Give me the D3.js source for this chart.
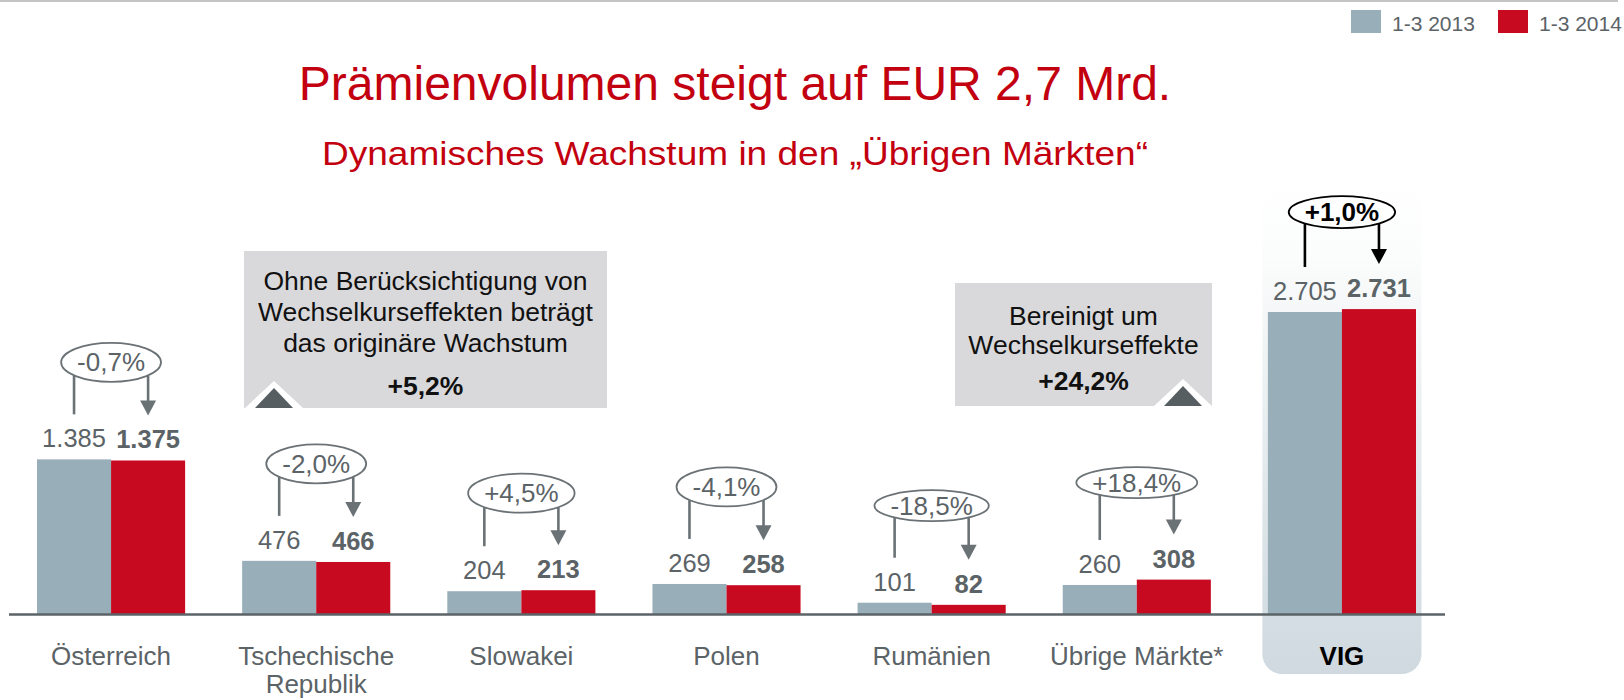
<!DOCTYPE html>
<html lang="de">
<head>
<meta charset="UTF-8">
<title>Prämienvolumen</title>
<script src="https://cdn.jsdelivr.net/npm/d3@7"></script>
<style>
    body { margin: 0; background: #fff; }
    svg { display: block; font-family: "Liberation Sans", Arial, sans-serif; }
</style>
</head>
<body>
<svg></svg>
<script>
    var categories = ["Österreich", "Tschechische\nRepublik", "Slowakei", "Polen", "Rumänien", "Übrige Märkte*", "VIG"];
    var series = ["1-3 2013", "1-3 2014"];
    var values2013 = [1385, 476, 204, 269, 101, 260, 2705];
    var values2014 = [1375, 466, 213, 258, 82, 308, 2731];
    var changes = ["-0,7%", "-2,0%", "+4,5%", "-4,1%", "-18,5%", "+18,4%", "+1,0%"];
    var noteLeft = ["Ohne Berücksichtigung von", "Wechselkurseffekten beträgt", "das originäre Wachstum", "+5,2%"];
    var noteRight = ["Bereinigt um", "Wechselkurseffekte", "+24,2%"];

    var width = 1624;
    var height = 700;
    var textGray = "#5b6367";
    var svg = d3.select("svg")
                .attr("width", width)
                .attr("height", height);

    // deutsches Zahlenformat 1.385
    var fmt = d3.formatLocale({decimal: ",", thousands: ".", grouping: [3], currency: ["", " €"]}).format(",d");

    var x = d3.scaleBand()
            .domain(categories)
            .range([8.5, 1444.5])
            .paddingInner(0.278)
            .paddingOuter(0.139);
    var xs = d3.scaleBand().domain(series).range([0, x.bandwidth()]);
    var y = d3.scaleLinear().domain([0, 2705]).range([614, 312]);
    var color = d3.scaleOrdinal().domain(series).range(["#98aeb8", "#c70a1f"]);

    var data = categories.map(function(c, i) {
        return {cat: c, vals: [values2013[i], values2014[i]], change: changes[i], total: c === "VIG"};
    });

    // Linie oben
    svg.append("line")
        .attr("x1", 0).attr("x2", 1618)
        .attr("y1", 1).attr("y2", 1)
        .attr("stroke", "#c4c4c4").attr("stroke-width", 2);

    // Legende
    var legend = svg.selectAll("g.legend")
            .data(series)
            .enter()
            .append("g")
            .attr("class", "legend")
            .attr("transform", function(d, i) { return "translate(" + (1351 + i * 147) + ",10)"; });
    legend.append("rect")
        .attr("width", 30).attr("height", 23)
        .attr("fill", function(d) { return color(d); });
    legend.append("text")
        .attr("x", 41).attr("y", 21)
        .attr("font-size", 21)
        .attr("fill", textGray)
        .text(function(d) { return d; });

    // Titel
    svg.append("text")
        .attr("x", 735).attr("y", 100)
        .attr("text-anchor", "middle")
        .attr("font-size", 48)
        .attr("fill", "#c3000f")
        .text("Prämienvolumen steigt auf EUR 2,7 Mrd.");
    svg.append("text")
        .attr("x", 735).attr("y", 165)
        .attr("text-anchor", "middle")
        .attr("font-size", 33)
        .attr("textLength", 826)
        .attr("lengthAdjust", "spacingAndGlyphs")
        .attr("fill", "#c3000f")
        .text("Dynamisches Wachstum in den „Übrigen Märkten“");

    // Hintergrund VIG
    var grad = svg.append("defs").append("linearGradient")
            .attr("id", "vigBg")
            .attr("x1", 0).attr("y1", 0).attr("x2", 0).attr("y2", 1);
    grad.append("stop").attr("offset", "0%").attr("stop-color", "#ffffff");
    grad.append("stop").attr("offset", "15%").attr("stop-color", "#fbfcfc");
    grad.append("stop").attr("offset", "75%").attr("stop-color", "#d9e2e6");
    grad.append("stop").attr("offset", "100%").attr("stop-color", "#cfd9df");
    svg.append("rect")
        .attr("x", x("VIG") - 5.5)
        .attr("y", 185)
        .attr("width", x.bandwidth() + 11)
        .attr("height", 674 - 185)
        .attr("rx", 20)
        .attr("fill", "url(#vigBg)");

    // Hinweisboxen
    function noteBox(lines, bx, by, bw, bh, baselines, triX) {
        var g = svg.append("g");
        g.append("rect")
            .attr("x", bx).attr("y", by)
            .attr("width", bw).attr("height", bh)
            .attr("fill", "#d9d9dc");
        g.selectAll("text")
            .data(lines)
            .enter()
            .append("text")
            .attr("x", bx + bw / 2)
            .attr("y", function(d, i) { return baselines[i]; })
            .attr("text-anchor", "middle")
            .attr("font-size", 26.5)
            .attr("font-weight", function(d, i) { return i === lines.length - 1 ? "bold" : null; })
            .attr("fill", "#111")
            .text(function(d) { return d; });
        var b = by + bh;
        g.append("path")
            .attr("d", "M" + (triX - 29) + "," + b + "L" + triX + "," + (b - 27) + "L" + (triX + 29) + "," + b + "Z")
            .attr("fill", "#fff");
        g.append("path")
            .attr("d", "M" + (triX - 19) + "," + b + "L" + triX + "," + (b - 20) + "L" + (triX + 19) + "," + b + "Z")
            .attr("fill", "#565e62");
    }
    noteBox(noteLeft, 244, 251, 363, 157, [290, 321, 352, 395], 274);
    noteBox(noteRight, 955, 283, 257, 123, [325, 354, 390], 1183);

    // Balken
    var groups = svg.selectAll("g.grp")
            .data(data)
            .enter()
            .append("g")
            .attr("class", "grp")
            .attr("transform", function(d) { return "translate(" + x(d.cat) + ",0)"; });

    groups.selectAll("rect")
        .data(function(d) { return d.vals.map(function(v, j) { return {key: series[j], v: v}; }); })
        .enter()
        .append("rect")
        .attr("x", function(d) { return xs(d.key); })
        .attr("y", function(d) { return y(d.v); })
        .attr("width", xs.bandwidth())
        .attr("height", function(d) { return y(0) - y(d.v); })
        .attr("fill", function(d) { return color(d.key); });

    groups.selectAll("text.val")
        .data(function(d) { return d.vals.map(function(v, j) { return {key: series[j], v: v, j: j}; }); })
        .enter()
        .append("text")
        .attr("class", "val")
        .attr("x", function(d) { return xs(d.key) + xs.bandwidth() / 2; })
        .attr("y", function(d) { return y(d.v) - 12; })
        .attr("text-anchor", "middle")
        .attr("font-size", 25.5)
        .attr("font-weight", function(d) { return d.j === 1 ? "bold" : null; })
        .attr("fill", textGray)
        .text(function(d) { return fmt(d.v); });

    // Achse
    var axis = svg.append("g")
            .attr("transform", "translate(0," + y(0) + ")")
            .call(d3.axisBottom(x).tickSize(0).tickSizeOuter(0));
    axis.select(".domain").attr("stroke", textGray).attr("stroke-width", 2.5);
    axis.selectAll(".tick text")
        .attr("font-family", "Liberation Sans, Arial, sans-serif")
        .attr("font-size", 26)
        .attr("fill", function(d) { return d === "VIG" ? "#000" : textGray; })
        .attr("font-weight", function(d) { return d === "VIG" ? "bold" : null; })
        .each(function(d) {
            var t = d3.select(this).text(null).attr("y", 51).attr("dy", null);
            d.split("\n").forEach(function(line, i) {
                t.append("tspan").attr("x", 0).attr("dy", i ? 28 : 0).text(line);
            });
        });

    // Veränderung mit Ellipse und Pfeilen
    groups.each(function(d) {
        var g = d3.select(this);
        var bw = xs.bandwidth();
        var c0 = xs(series[0]) + bw / 2;
        var c1 = xs(series[1]) + bw / 2;
        var lab0 = y(d.vals[0]) - 12;
        var lab1 = y(d.vals[1]) - 12;
        var stroke = d.total ? "#000" : "#6b7276";
        var cx = x.bandwidth() / 2;
        var cy = Math.min(lab0, lab1) - 85;

        var ell = g.append("ellipse");
        var t = g.append("text")
                .attr("x", cx).attr("y", cy + 9)
                .attr("text-anchor", "middle")
                .attr("font-size", 26)
                .attr("font-weight", d.total ? "bold" : null)
                .attr("fill", d.total ? "#000" : textGray)
                .text(d.change);
        var rx = t.node().getComputedTextLength() / 2 + 16;
        var ry = d.total ? 16 : (rx > 56 ? 15.5 : 19.5);
        ell.attr("cx", cx).attr("cy", cy)
            .attr("rx", rx).attr("ry", ry)
            .attr("fill", "none")
            .attr("stroke", stroke)
            .attr("stroke-width", 1.8);

        function edge(px) {
            var k = (px - cx) / rx;
            return cy + ry * Math.sqrt(Math.max(0, 1 - k * k));
        }
        g.append("line")
            .attr("x1", c0).attr("x2", c0)
            .attr("y1", edge(c0)).attr("y2", lab0 - 33)
            .attr("stroke", stroke).attr("stroke-width", 2.6);
        g.append("line")
            .attr("x1", c1).attr("x2", c1)
            .attr("y1", edge(c1)).attr("y2", lab1 - 46)
            .attr("stroke", stroke).attr("stroke-width", 2.6);
        g.append("path")
            .attr("d", "M" + (c1 - 8) + "," + (lab1 - 48) + "L" + (c1 + 8) + "," + (lab1 - 48) + "L" + c1 + "," + (lab1 - 33) + "Z")
            .attr("fill", stroke);
    });
</script>
</body>
</html>
